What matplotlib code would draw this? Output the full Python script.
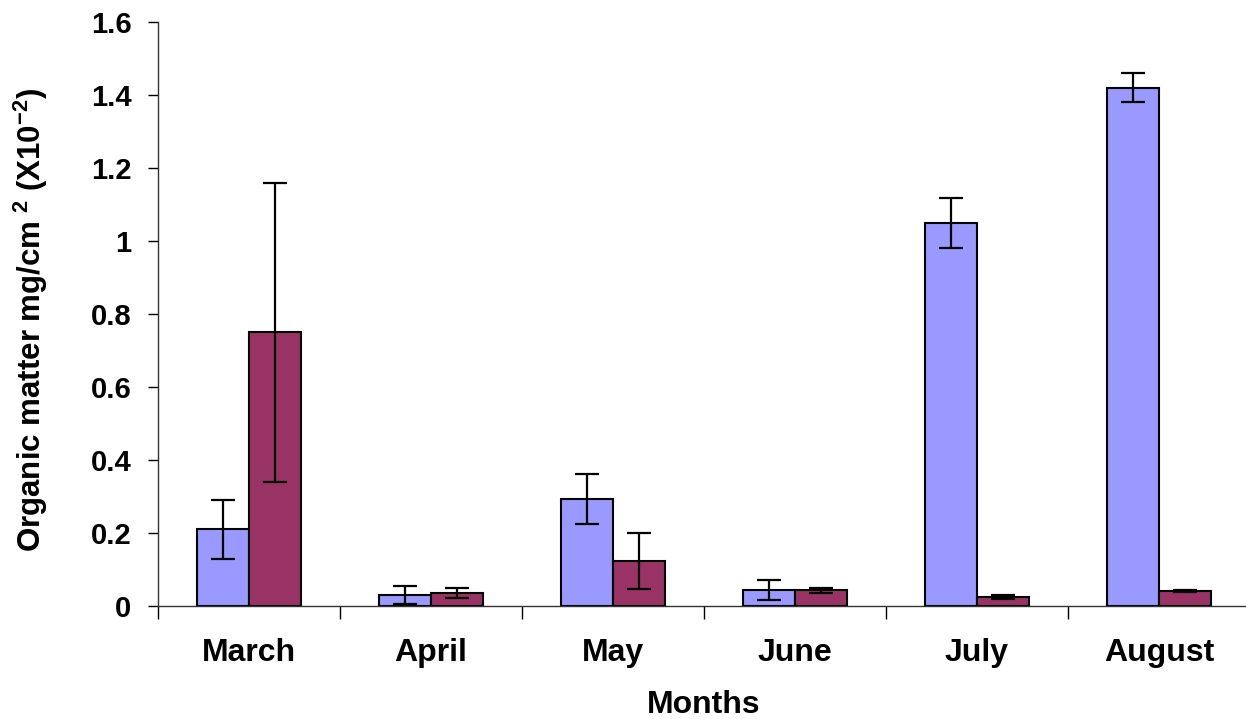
import matplotlib.pyplot as plt
import numpy as np

plt.rcParams['font.family'] = ['Liberation Sans', 'DejaVu Sans']
plt.rcParams['font.weight'] = 'bold'
plt.rcParams['mathtext.fontset'] = 'custom'
plt.rcParams['mathtext.rm'] = 'Liberation Sans:bold'
plt.rcParams['mathtext.bf'] = 'Liberation Sans:bold'
plt.rcParams['mathtext.default'] = 'rm'

# Data (organic matter, mg/cm2 x10^-2)
months = ['March', 'April', 'May', 'June', 'July', 'August']
series_a = [0.21, 0.031, 0.293, 0.043, 1.05, 1.42]
series_a_err = [0.08, 0.025, 0.069, 0.027, 0.069, 0.04]
series_b = [0.75, 0.036, 0.123, 0.043, 0.024, 0.041]
series_b_err = [0.41, 0.013, 0.076, 0.007, 0.006, 0.004]
yticks = [0, 0.2, 0.4, 0.6, 0.8, 1.0, 1.2, 1.4, 1.6]
ytick_labels = ['0', '0.2', '0.4', '0.6', '0.8', '1', '1.2', '1.4', '1.6']

W, H = 1246, 719
fig = plt.figure(figsize=(W / 100, H / 100), dpi=100)
ax = fig.add_axes([158 / W, 1 - 606 / H, (1250 - 158) / W, (606 - 22) / H])

x = np.arange(len(months))
w = 0.285
err_kw = dict(ecolor='black', elinewidth=1.6, capsize=8.5, capthick=1.6)
ax.bar(x - w / 2, series_a, w, color='#9999FF', edgecolor='black', linewidth=1.5,
       yerr=series_a_err, error_kw=err_kw, zorder=2)
ax.bar(x + w / 2, series_b, w, color='#993366', edgecolor='black', linewidth=1.5,
       yerr=series_b_err, error_kw=err_kw, zorder=2)

ax.set_xlim(-0.5, len(months) - 0.5)
ax.set_ylim(0, 1.6)
ax.set_yticks(yticks)
ax.set_yticklabels(ytick_labels)
ax.set_xticks(x)
ax.set_xticklabels(months)
ax.set_xticks(np.arange(-0.5, len(months)), minor=True)

ax.tick_params(axis='x', which='major', length=0, pad=23, labelsize=23)
ax.tick_params(axis='x', which='minor', length=9, width=1, direction='out')
ax.tick_params(axis='y', length=7, width=1, direction='out', pad=12, labelsize=21)

for s in ['top', 'right']:
    ax.spines[s].set_visible(False)
for s in ['left', 'bottom']:
    ax.spines[s].set_color('#333333')
    ax.spines[s].set_linewidth(1.0)

ax.set_xlabel('Months', fontsize=23, fontweight='bold', labelpad=16)
ax.set_ylabel(r'Organic matter mg/cm$^{\ 2}$ (X10$^{-2}$)', fontsize=22.5,
              fontweight='bold')
ax.yaxis.set_label_coords(-0.099, 0.49)

fig.savefig('out.png', dpi=100)
